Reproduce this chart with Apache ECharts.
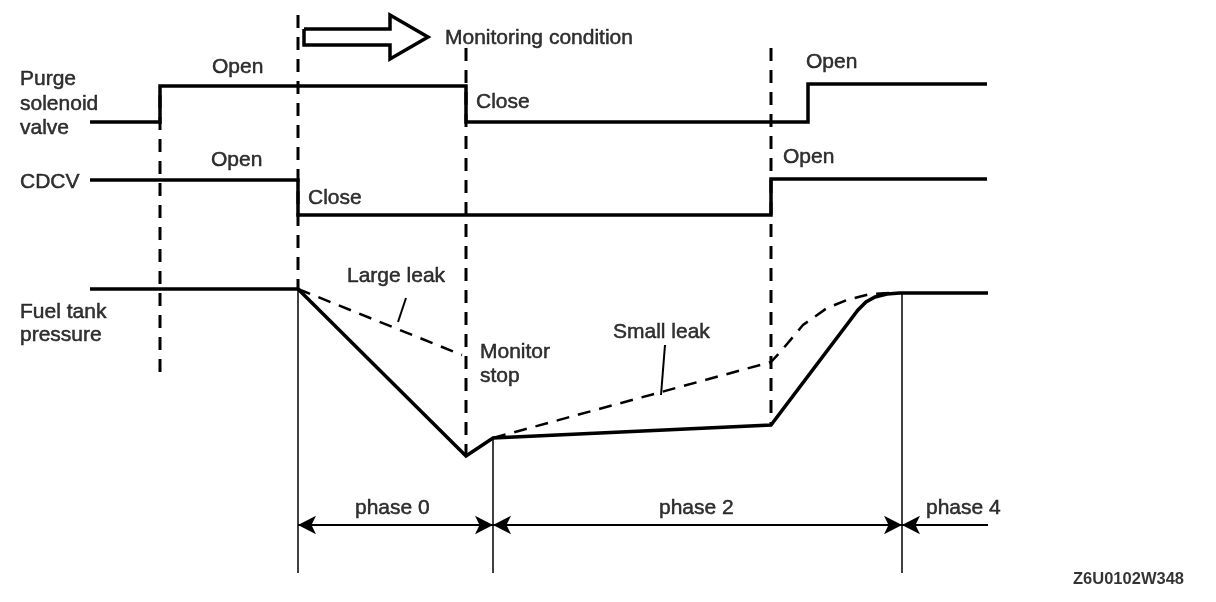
<!DOCTYPE html>
<html>
<head>
<meta charset="utf-8">
<script src="https://cdn.jsdelivr.net/npm/echarts@6/dist/echarts.min.js"></script>
<style>
  html, body { margin: 0; padding: 0; background: #fff; }
  #chart { width: 1216px; height: 602px; }
</style>
</head>
<body>
<div id="chart"></div>
<script>
// signal traces, in diagram units (x = time, y = level, top down)
const purgeValve = [[90, 122], [160, 122], [160, 86], [466, 86], [466, 122], [808, 122], [808, 84], [987, 84]]
const cdcv = [[90, 180], [298, 180], [298, 215], [771, 215], [771, 179], [987, 179]]
const tankPressure = [[90, 289], [298, 289], [466, 456], [493, 438], [771, 425], [858, 310], [866, 302], [875, 297], [887, 294], [900, 293], [988, 293]]
const largeLeak = [[298, 289], [462, 355]]
const smallLeak = [[493, 438], [771, 362], [782, 350], [803, 325], [827, 308], [847, 300], [870, 294], [890, 293]]

// timing markers
const dashedMarkers = [
  [[160, 95], [160, 372]],
  [[298, 15], [298, 290]],
  [[466, 48], [466, 455]],
  [[771, 48], [771, 425]]
]
const solidMarkers = [
  [[298, 290], [298, 573]],
  [[493, 438], [493, 573]],
  [[902, 293], [902, 573]]
]
const phaseSpans = [
  [[298, 525], [493, 525]],
  [[493, 525], [902, 525]]
]
const phase4Span = [[902, 525], [988, 525]]
const leaders = [
  [[406, 298], [398, 322]],
  [[665, 345], [661, 395]]
]
const blockArrow = [[304, 29], [390, 29], [390, 15], [428, 37], [390, 59], [390, 45], [304, 45], [304, 29]]

// text: [x, y, text]  (left edge, vertical middle)
const leftLabels = [
  [20, 79, 'Purge'], [20, 104, 'solenoid'], [20, 128, 'valve'],
  [20, 182, 'CDCV'],
  [20, 312, 'Fuel tank'], [20, 335, 'pressure'],
  [212, 67, 'Open'], [476, 102, 'Close'],
  [211, 160, 'Open'], [308, 198, 'Close'],
  [806, 62, 'Open'], [783, 157, 'Open'],
  [347, 276, 'Large leak'], [480, 352, 'Monitor'], [480, 376, 'stop'],
  [613, 332, 'Small leak'],
  [445, 38, 'Monitoring condition'],
  [355, 508, 'phase 0'], [659, 508, 'phase 2'], [926, 508, 'phase 4']
]
const codeLabel = [[1073, 579, 'Z6U0102W348']]

const FONT = '"Liberation Sans", Arial, sans-serif'

function trace(data, width, dashed) {
  return {
    type: 'line', data: data, symbol: 'none', silent: true, animation: false,
    lineStyle: { color: '#000', width: width, type: dashed ? [13, 9] : 'solid', cap: 'butt', join: 'miter' }
  }
}

function segs(list, width, dashed) {
  return list.map(s => trace(s, width, dashed))
}

function labels(data, size, weight, stroke) {
  return {
    type: 'scatter', data: data, symbolSize: 0, silent: true, animation: false,
    label: {
      show: true, position: 'right', distance: 0,
      formatter: p => p.data[2],
      color: '#000', fontFamily: FONT, fontSize: size, fontWeight: weight,
      textBorderColor: '#000', textBorderWidth: stroke
    }
  }
}

function dimension(span, symbols) {
  return {
    type: 'line', data: [], symbol: 'none', silent: true, animation: false,
    markLine: {
      silent: true, animation: false,
      symbol: symbols, symbolSize: [14, 18],
      itemStyle: { color: '#000' },
      lineStyle: { color: '#000', width: 2, type: 'solid' },
      label: { show: false },
      data: [[{ coord: span[0] }, { coord: span[1] }]]
    }
  }
}

const chart = echarts.init(document.getElementById('chart'))
chart.setOption({
  backgroundColor: '#fff',
  grid: { left: 0, right: 0, top: 0, bottom: 0 },
  xAxis: { type: 'value', min: 0, max: 1216, show: false },
  yAxis: { type: 'value', min: 0, max: 602, inverse: true, show: false },
  series: [
    trace(purgeValve, 3.5),
    trace(cdcv, 3.5),
    trace(tankPressure, 3.5),
    trace(largeLeak, 2.5, true),
    trace(smallLeak, 2.5, true),
    trace(blockArrow, 3.5),
    ...segs(dashedMarkers, 3, true),
    ...segs(solidMarkers, 1.5),
    ...segs(leaders, 2),
    ...phaseSpans.map(s => dimension(s, ['arrow', 'arrow'])),
    dimension(phase4Span, ['arrow', 'none']),
    labels(leftLabels, 21, 'normal', 0.5),
    labels(codeLabel, 16.5, 'bold', 0)
  ]
})
</script>
</body>
</html>
